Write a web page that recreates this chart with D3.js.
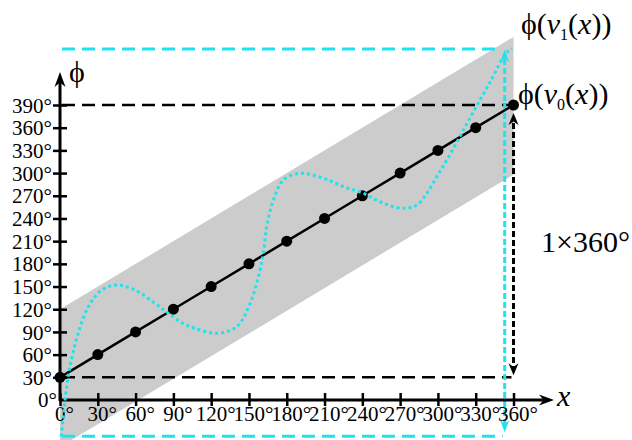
<!DOCTYPE html>
<html>
<head>
<meta charset="utf-8">
<script src="https://cdn.jsdelivr.net/npm/d3@7"></script>
<style>
  html, body { margin: 0; padding: 0; background: #fff; }
</style>
</head>
<body>
<svg id="chart" width="632" height="440"></svg>
<script>
  // ticks
  var xTicks = [0, 30, 60, 90, 120, 150, 180, 210, 240, 270, 300, 330, 360];
  var phiTicks = [30, 60, 90, 120, 150, 180, 210, 240, 270, 300, 330, 360, 390];

  // phi(v0(x)) : the straight line with dots
  var v0X = [0, 30, 60, 90, 120, 150, 180, 210, 240, 270, 300, 330, 360];
  var v0Phi = [30, 60, 90, 120, 150, 180, 210, 240, 270, 300, 330, 360, 390];

  // grey band
  var bandX = [0, 360];
  var bandTop = [120, 480];
  var bandBottom = [-62, 298];

  // phi(v1(x)) : the dotted cyan curve
  var v1X = [1, 4, 7.9, 14.5, 22.5, 33.1, 45, 59.6, 75.4, 86, 98, 107.2, 124.4, 140.3, 150.9, 158.8,
             161.4, 164.1, 169.4, 177.3, 190.6, 209.1, 225, 240.8, 256.7, 272.6, 283.2, 291.2, 299.1,
             307.1, 325.6, 341.4, 354.9, 359];
  var v1Phi = [-48, 0, 44, 88.6, 123.3, 145.4, 152, 145.4, 127.8, 114.6, 101, 94.8, 88.2, 96.9, 127.8, 171.9,
               194, 229.1, 264.4, 290.9, 299.7, 293.1, 282, 273.3, 260, 253.4, 257.8, 273.3, 295.2,
               317.3, 373.1, 420.4, 460, 464];

  var cyanArrowX = 353;   // the cyan span arrow sits a little left of 360

  var FONT = '"Liberation Serif"';

  var svg = d3.select('#chart');

  var x = d3.scaleLinear().domain([0, 360]).range([60, 513.5]),
      y = d3.scaleLinear().domain([0, 390]).range([400, 105]);

  var cyan = '#1fe3ec';

  var arrow = function(px, py, dir, color, len, half) {
    var p;
    if (dir === 'up')
      p = [[px, py], [px - half, py + len], [px, py + len * 0.7], [px + half, py + len]];
    else if (dir === 'down')
      p = [[px, py], [px - half, py - len], [px, py - len * 0.7], [px + half, py - len]];
    else
      p = [[px, py], [px - len, py - half], [px - len * 0.7, py], [px - len, py + half]];
    svg.append('path')
      .attr('d', 'M' + p.join('L') + 'Z')
      .attr('fill', color);
  };

  var dashed = function(x1, y1, x2, y2, color, dash, w) {
    svg.append('line')
      .attr('x1', x1).attr('y1', y1).attr('x2', x2).attr('y2', y2)
      .attr('stroke', color)
      .attr('stroke-width', w)
      .attr('stroke-dasharray', dash);
  };

  var label = function(px, py, size, txt) {
    return svg.append('text')
      .attr('x', px).attr('y', py)
      .style('font-family', FONT)
      .style('font-size', size + 'px')
      .text(txt);
  };

  // band
  var band = bandX.map(function(d, i) { return { x: d, lo: bandBottom[i], hi: bandTop[i] }; });
  svg.append('path')
    .datum(band)
    .attr('fill', '#cccccc')
    .attr('d', d3.area()
      .x(function(d) { return x(d.x); })
      .y0(function(d) { return y(d.lo); })
      .y1(function(d) { return y(d.hi); }));

  // guide lines
  var v0First = v0Phi[0], v0Last = v0Phi[v0Phi.length - 1],
      v1First = v1Phi[0], v1Last = v1Phi[v1Phi.length - 1];

  dashed(62, y(v0Last), x(360) - 4, y(v0Last), '#000', '13,7', 2.5);
  dashed(62, y(v0First), x(360) - 2, y(v0First), '#000', '13,7', 2.5);
  dashed(62, y(v1Last), x(cyanArrowX) - 4, y(v1Last), cyan, '13,7', 3);
  dashed(62, y(v1First), x(cyanArrowX) - 2, y(v1First), cyan, '13,7', 3);

  // cyan span arrow
  dashed(x(cyanArrowX), y(v1Last) + 10, x(cyanArrowX), y(v1First) - 8, cyan, '6,3', 3);
  arrow(x(cyanArrowX), y(v1Last) + 1, 'up', cyan, 12, 4.5);
  arrow(x(cyanArrowX), y(v1First) - 4, 'down', cyan, 12, 4.5);

  // black span arrow
  dashed(x(360), y(v0Last) + 18, x(360), y(v0First) - 10, '#000', '6,3', 3);
  arrow(x(360), y(v0Last) + 8, 'up', '#000', 12, 5);
  arrow(x(360), y(v0First) - 2, 'down', '#000', 12, 5);

  // axes
  var yAxis = svg.append('g')
    .attr('transform', 'translate(60,0)')
    .call(d3.axisLeft(y).tickValues(phiTicks).tickSize(7).tickPadding(8)
      .tickFormat(function(d) { return d + '°'; }));
  yAxis.select('.domain').remove();
  yAxis.selectAll('.tick line').attr('x1', -7).attr('x2', 7).attr('stroke-width', 2.5);
  yAxis.selectAll('.tick text')
    .attr('x', -8).attr('dy', '0.34em')
    .style('font-family', FONT).style('font-size', '21px');

  var xAxis = svg.append('g')
    .attr('transform', 'translate(0,400)')
    .call(d3.axisBottom(x).tickValues(xTicks).tickSize(7)
      .tickFormat(function(d) { return d + '°'; }));
  xAxis.select('.domain').remove();
  xAxis.selectAll('.tick line').attr('y1', -7).attr('y2', 6).attr('stroke-width', 2.5);
  xAxis.selectAll('.tick text')
    .attr('y', 6).attr('dx', 4)
    .style('font-family', FONT).style('font-size', '21px');

  label(57, 407, 21, '0°').attr('text-anchor', 'end');

  svg.append('line')
    .attr('x1', 60).attr('y1', 401).attr('x2', 60).attr('y2', 80)
    .attr('stroke', '#000').attr('stroke-width', 3);
  arrow(60, 72, 'up', '#000', 15, 5.5);

  svg.append('line')
    .attr('x1', 59).attr('y1', 400).attr('x2', 546).attr('y2', 400)
    .attr('stroke', '#000').attr('stroke-width', 3);
  arrow(554, 400, 'right', '#000', 15, 5.5);

  // phi(v0(x))
  var v0 = v0X.map(function(d, i) { return { x: d, phi: v0Phi[i] }; });
  svg.append('path')
    .datum(v0)
    .attr('fill', 'none')
    .attr('stroke', '#000')
    .attr('stroke-width', 2.5)
    .attr('d', d3.line()
      .x(function(d) { return x(d.x); })
      .y(function(d) { return y(d.phi); }));

  svg.selectAll('.dot')
    .data(v0)
    .enter()
      .append('circle')
      .attr('class', 'dot')
      .attr('cx', function(d) { return x(d.x); })
      .attr('cy', function(d) { return y(d.phi); })
      .attr('r', 5.5)
      .attr('fill', '#000');

  // phi(v1(x))
  var v1 = v1X.map(function(d, i) { return { x: d, phi: v1Phi[i] }; });
  svg.append('path')
    .datum(v1)
    .attr('fill', 'none')
    .attr('stroke', cyan)
    .attr('stroke-width', 3)
    .attr('stroke-dasharray', '3,3')
    .attr('d', d3.line()
      .curve(d3.curveCatmullRom)
      .x(function(d) { return x(d.x); })
      .y(function(d) { return y(d.phi); }));

  // labels
  label(77, 82, 30, 'ϕ').attr('text-anchor', 'middle');
  label(557, 406, 30, 'x').style('font-style', 'italic');

  var fnLabel = function(px, py, sub) {
    var t = label(px, py, 30, null);
    t.append('tspan').text('ϕ(');
    t.append('tspan').style('font-style', 'italic').text('v');
    t.append('tspan').attr('dy', 6).style('font-size', '16px').text(sub);
    t.append('tspan').attr('dy', -6).text('(');
    t.append('tspan').style('font-style', 'italic').text('x');
    t.append('tspan').text('))');
  };
  fnLabel(521, 34, '1');
  fnLabel(518, 104, '0');

  label(541, 252, 30, '1×360°');
</script>
</body>
</html>
